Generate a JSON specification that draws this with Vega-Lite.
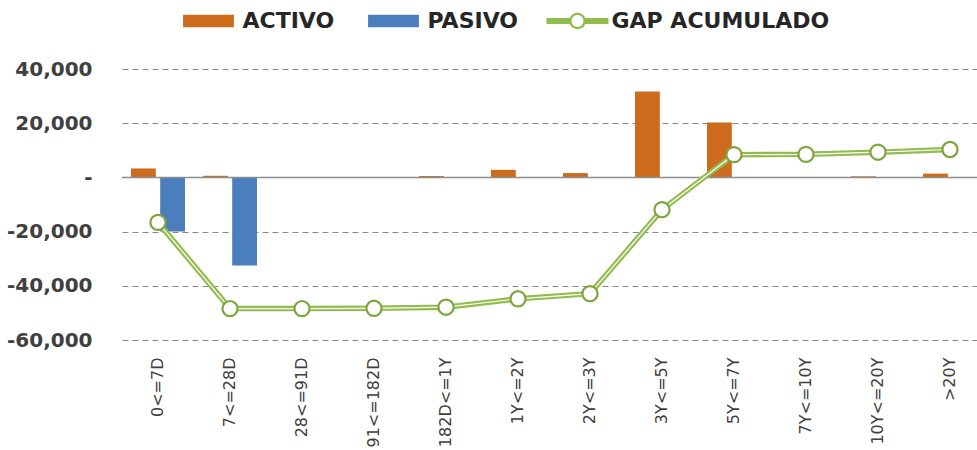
{
  "$schema": "https://vega.github.io/schema/vega-lite/v6.json",
  "width": 855,
  "height": 271,
  "autosize": {"type": "none"},
  "padding": {"left": 122, "top": 69, "right": 0, "bottom": 110},
  "background": "white",
  "config": {"view": {"stroke": null}, "font": "DejaVu Sans"},
  "datasets": {
    "bars": [
      {"plazo": "0<=7D", "serie": "ACTIVO", "valor": 3300},
      {"plazo": "0<=7D", "serie": "PASIVO", "valor": -20000},
      {"plazo": "7<=28D", "serie": "ACTIVO", "valor": 600},
      {"plazo": "7<=28D", "serie": "PASIVO", "valor": -32500},
      {"plazo": "182D<=1Y", "serie": "ACTIVO", "valor": 500},
      {"plazo": "1Y<=2Y", "serie": "ACTIVO", "valor": 2800},
      {"plazo": "2Y<=3Y", "serie": "ACTIVO", "valor": 1600},
      {"plazo": "3Y<=5Y", "serie": "ACTIVO", "valor": 31700},
      {"plazo": "5Y<=7Y", "serie": "ACTIVO", "valor": 20300},
      {"plazo": "10Y<=20Y", "serie": "ACTIVO", "valor": 400},
      {"plazo": ">20Y", "serie": "ACTIVO", "valor": 1400}
    ],
    "gap": [
      {"plazo": "0<=7D", "gap": -16600},
      {"plazo": "7<=28D", "gap": -48400},
      {"plazo": "28<=91D", "gap": -48400},
      {"plazo": "91<=182D", "gap": -48300},
      {"plazo": "182D<=1Y", "gap": -47900},
      {"plazo": "1Y<=2Y", "gap": -44800},
      {"plazo": "2Y<=3Y", "gap": -42900},
      {"plazo": "3Y<=5Y", "gap": -11900},
      {"plazo": "5Y<=7Y", "gap": 8400},
      {"plazo": "7Y<=10Y", "gap": 8500},
      {"plazo": "10Y<=20Y", "gap": 9300},
      {"plazo": ">20Y", "gap": 10300}
    ],
    "zero": [{"nivel": 0}]
  },
  "layer": [
    {
      "data": {"name": "bars"},
      "mark": {"type": "bar"},
      "encoding": {
        "x": {
          "field": "plazo",
          "type": "nominal",
          "scale": {
            "domain": ["0<=7D", "7<=28D", "28<=91D", "91<=182D", "182D<=1Y", "1Y<=2Y", "2Y<=3Y", "3Y<=5Y", "5Y<=7Y", "7Y<=10Y", "10Y<=20Y", ">20Y"],
            "range": [0, 864],
            "paddingInner": 0.25,
            "paddingOuter": 0.125
          },
          "axis": {
            "title": null,
            "labelAngle": -90,
            "labelFont": "DejaVu Sans",
            "labelFontSize": 16,
            "labelColor": "#404040",
            "labelPadding": 17,
            "domain": false,
            "ticks": false,
            "grid": false
          }
        },
        "xOffset": {
          "field": "serie",
          "type": "nominal",
          "scale": {"domain": ["ACTIVO", "PASIVO"], "paddingInner": 0.15}
        },
        "y": {
          "field": "valor",
          "type": "quantitative",
          "scale": {"domain": [-60000, 40000], "nice": false},
          "axis": {
            "title": null,
            "values": [-60000, -40000, -20000, 0, 20000, 40000],
            "labelExpr": "datum.value === 0 ? '-  ' : replace(format(datum.value, ','), '−', '-')",
            "domain": false,
            "ticks": false,
            "grid": true,
            "gridDash": [6, 4],
            "gridColor": "#8a8a8a",
            "gridWidth": 1.2,
            "labelFont": "DejaVu Sans",
            "labelFontWeight": "bold",
            "labelFontSize": 20,
            "labelColor": "#404040",
            "labelPadding": 30
          }
        },
        "color": {
          "field": "serie",
          "type": "nominal",
          "scale": {
            "domain": ["ACTIVO", "PASIVO", "GAP ACUMULADO"],
            "range": ["#CD6C1C", "#4A7EBD", "#92BC4E"]
          },
          "legend": {
            "orient": "none",
            "direction": "horizontal",
            "legendX": 54.5,
            "legendY": -80,
            "title": null,
            "padding": 0,
            "labelFont": "DejaVu Sans",
            "labelFontWeight": "bold",
            "labelFontSize": 22,
            "labelLimit": 0,
            "labelColor": "#262626",
            "symbolSize": 3844,
            "labelOffset": 2,
            "columnPadding": 27,
            "symbolOpacity": 1,
            "encode": {
              "symbols": {
                "enter": {
                  "shape": {"signal": "datum.value === 'GAP ACUMULADO' ? 'M-1,-0.1H-0.25A0.27,0.27 0 0 1 0.25,-0.1H1V0.1H0.25A0.27,0.27 0 0 1 -0.25,0.1H-1ZM-0.19,0A0.19,0.19 0 1 0 0.19,0A0.19,0.19 0 1 0 -0.19,0Z' : 'M-0.82,-0.2H0.82V0.2H-0.82Z'"},
                  "size": {"value": 3844}
                },
                "update": {
                  "shape": {"signal": "datum.value === 'GAP ACUMULADO' ? 'M-1,-0.1H-0.25A0.27,0.27 0 0 1 0.25,-0.1H1V0.1H0.25A0.27,0.27 0 0 1 -0.25,0.1H-1ZM-0.19,0A0.19,0.19 0 1 0 0.19,0A0.19,0.19 0 1 0 -0.19,0Z' : 'M-0.82,-0.2H0.82V0.2H-0.82Z'"},
                  "size": {"value": 3844},
                  "opacity": {"value": 1}
                }
              }
            }
          }
        }
      }
    },
    {
      "data": {"name": "zero"},
      "mark": {"type": "rule", "color": "#8c8c8c", "strokeWidth": 1.5},
      "encoding": {"y": {"field": "nivel", "type": "quantitative"}}
    },
    {
      "data": {"name": "gap"},
      "mark": {"type": "line", "strokeWidth": 5.5, "color": "#92BC4E"},
      "encoding": {
        "x": {"field": "plazo", "type": "nominal"},
        "y": {"field": "gap", "type": "quantitative"}
      }
    },
    {
      "data": {"name": "gap"},
      "mark": {"type": "line", "strokeWidth": 1.2, "color": "#ffffff"},
      "encoding": {
        "x": {"field": "plazo", "type": "nominal"},
        "y": {"field": "gap", "type": "quantitative"}
      }
    },
    {
      "data": {"name": "gap"},
      "mark": {"type": "point", "filled": true, "fill": "#ffffff", "stroke": "#7EA53D", "strokeWidth": 2.2, "size": 230, "opacity": 1},
      "encoding": {
        "x": {"field": "plazo", "type": "nominal"},
        "y": {"field": "gap", "type": "quantitative"}
      }
    }
  ]
}
